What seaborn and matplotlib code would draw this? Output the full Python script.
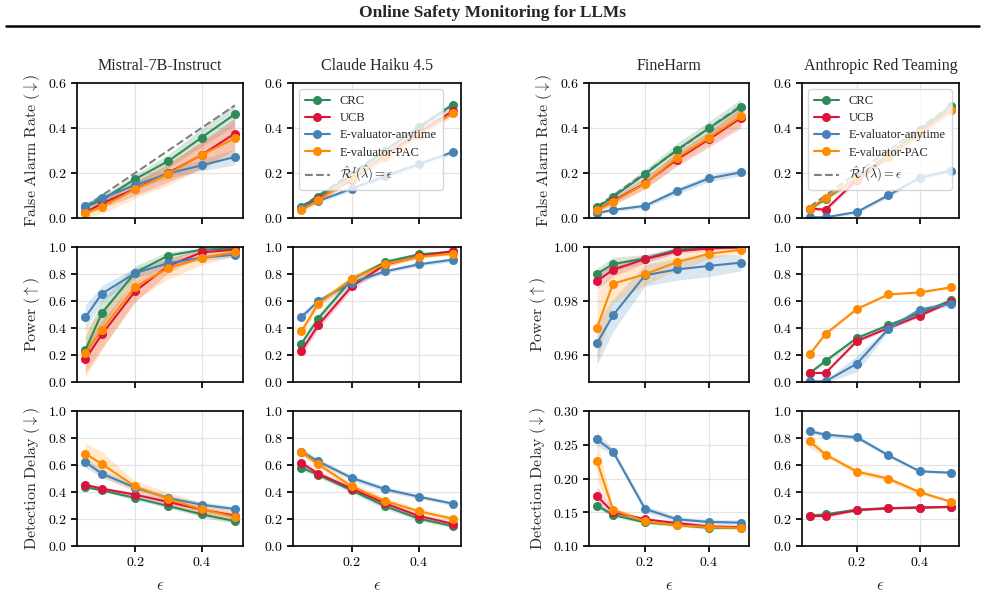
import numpy as np
import matplotlib
matplotlib.use("Agg")
import matplotlib.pyplot as plt
from matplotlib.lines import Line2D
from matplotlib.ticker import FuncFormatter
import seaborn as sns

# x values (epsilon)
eps = [0.05, 0.1, 0.2, 0.3, 0.4, 0.5]

datasets = ["Mistral-7B-Instruct", "Claude Haiku 4.5", "FineHarm", "Anthropic Red Teaming"]
methods = ["CRC", "UCB", "E-valuator-anytime", "E-valuator-PAC"]
colors = {"CRC": "#2e8b57", "UCB": "#dc143c",
          "E-valuator-anytime": "#4682b4", "E-valuator-PAC": "#ff8c00"}

# ---- False alarm rate: (mean, band half-width) per method
far_mistral = {
    "CRC": ([0.049, 0.08, 0.173, 0.253, 0.357, 0.461], [0.01, 0.015, 0.02, 0.03, 0.04, 0.05]),
    "UCB": ([0.025, 0.064, 0.13, 0.2, 0.28, 0.375], [0.01, 0.02, 0.03, 0.04, 0.06, 0.07]),
    "E-valuator-anytime": ([0.054, 0.089, 0.146, 0.198, 0.234, 0.271], [0.015, 0.015, 0.02, 0.02, 0.025, 0.035]),
    "E-valuator-PAC": ([0.022, 0.049, 0.128, 0.196, 0.28, 0.354], [0.02, 0.03, 0.04, 0.05, 0.06, 0.07]),
}
far_claude = {
    "CRC": ([0.05, 0.095, 0.19, 0.3, 0.405, 0.503], [0.008, 0.01, 0.012, 0.015, 0.015, 0.015]),
    "UCB": ([0.04, 0.085, 0.17, 0.28, 0.38, 0.475], [0.008, 0.01, 0.012, 0.015, 0.015, 0.015]),
    "E-valuator-anytime": ([0.045, 0.075, 0.131, 0.186, 0.24, 0.293], [0.006, 0.008, 0.01, 0.01, 0.01, 0.01]),
    "E-valuator-PAC": ([0.034, 0.079, 0.176, 0.272, 0.37, 0.466], [0.008, 0.01, 0.012, 0.015, 0.015, 0.015]),
}
far_fineharm = {
    "CRC": ([0.047, 0.093, 0.195, 0.303, 0.399, 0.494], [0.01, 0.015, 0.02, 0.03, 0.03, 0.035]),
    "UCB": ([0.035, 0.075, 0.155, 0.26, 0.35, 0.445], [0.01, 0.015, 0.025, 0.03, 0.035, 0.045]),
    "E-valuator-anytime": ([0.022, 0.036, 0.054, 0.12, 0.176, 0.203], [0.005, 0.008, 0.01, 0.015, 0.015, 0.015]),
    "E-valuator-PAC": ([0.034, 0.071, 0.153, 0.268, 0.357, 0.452], [0.01, 0.015, 0.025, 0.03, 0.03, 0.04]),
}
far_anthropic = {
    "CRC": ([0.04, 0.085, 0.18, 0.28, 0.39, 0.496], [0.008, 0.01, 0.012, 0.012, 0.012, 0.012]),
    "UCB": ([0.042, 0.037, 0.17, 0.27, 0.38, 0.48], [0.008, 0.01, 0.012, 0.012, 0.012, 0.012]),
    "E-valuator-anytime": ([0.004, 0.003, 0.027, 0.101, 0.179, 0.211], [0.004, 0.004, 0.008, 0.01, 0.01, 0.01]),
    "E-valuator-PAC": ([0.042, 0.091, 0.175, 0.272, 0.38, 0.478], [0.008, 0.01, 0.012, 0.012, 0.012, 0.012]),
}

# ---- Power
pow_mistral = {
    "CRC": ([0.235, 0.511, 0.81, 0.936, 0.98, 0.99], [0.1, 0.1, 0.05, 0.03, 0.01, 0.01]),
    "UCB": ([0.168, 0.353, 0.672, 0.86, 0.96, 0.98], [0.1, 0.1, 0.08, 0.05, 0.03, 0.02]),
    "E-valuator-anytime": ([0.479, 0.654, 0.807, 0.88, 0.92, 0.943], [0.09, 0.06, 0.04, 0.03, 0.02, 0.02]),
    "E-valuator-PAC": ([0.215, 0.388, 0.704, 0.844, 0.918, 0.963], [0.18, 0.15, 0.1, 0.08, 0.05, 0.03]),
}
pow_claude = {
    "CRC": ([0.284, 0.47, 0.76, 0.889, 0.946, 0.965], [0.03, 0.03, 0.025, 0.02, 0.01, 0.01]),
    "UCB": ([0.23, 0.42, 0.709, 0.87, 0.93, 0.97], [0.03, 0.03, 0.025, 0.02, 0.01, 0.01]),
    "E-valuator-anytime": ([0.481, 0.598, 0.736, 0.82, 0.872, 0.906], [0.03, 0.025, 0.02, 0.015, 0.015, 0.015]),
    "E-valuator-PAC": ([0.375, 0.58, 0.765, 0.874, 0.926, 0.95], [0.03, 0.03, 0.025, 0.02, 0.01, 0.01]),
}
pow_fineharm = {
    "CRC": ([0.9901, 0.9937, 0.9957, 0.999, 1.0, 1.0], [0.002, 0.0025, 0.0015, 0.001, 0.0005, 0.0003]),
    "UCB": ([0.9873, 0.9916, 0.9955, 0.9984, 0.9995, 0.9998], [0.003, 0.0025, 0.0015, 0.001, 0.0005, 0.0003]),
    "E-valuator-anytime": ([0.9644, 0.9747, 0.9895, 0.9917, 0.993, 0.9942], [0.008, 0.006, 0.004, 0.004, 0.004, 0.003]),
    "E-valuator-PAC": ([0.9701, 0.9864, 0.9899, 0.9944, 0.9975, 0.999], [0.013, 0.007, 0.004, 0.003, 0.002, 0.001]),
}
pow_anthropic = {
    "CRC": ([0.067, 0.156, 0.326, 0.42, 0.51, 0.605], [0.01, 0.015, 0.02, 0.015, 0.015, 0.015]),
    "UCB": ([0.067, 0.067, 0.304, 0.4, 0.491, 0.595], [0.005, 0.005, 0.015, 0.01, 0.01, 0.01]),
    "E-valuator-anytime": ([0.005, 0.005, 0.136, 0.393, 0.536, 0.58], [0.005, 0.01, 0.06, 0.02, 0.02, 0.02]),
    "E-valuator-PAC": ([0.207, 0.356, 0.541, 0.649, 0.664, 0.701], [0.01, 0.01, 0.01, 0.01, 0.01, 0.01]),
}

# ---- Detection delay
del_mistral = {
    "CRC": ([0.437, 0.412, 0.356, 0.296, 0.235, 0.185], [0.01, 0.01, 0.015, 0.015, 0.02, 0.02]),
    "UCB": ([0.454, 0.425, 0.38, 0.326, 0.27, 0.225], [0.01, 0.01, 0.02, 0.02, 0.02, 0.02]),
    "E-valuator-anytime": ([0.622, 0.536, 0.432, 0.355, 0.306, 0.274], [0.04, 0.03, 0.02, 0.02, 0.02, 0.02]),
    "E-valuator-PAC": ([0.684, 0.607, 0.442, 0.348, 0.272, 0.215], [0.08, 0.09, 0.04, 0.05, 0.05, 0.04]),
}
del_claude = {
    "CRC": ([0.58, 0.528, 0.412, 0.294, 0.202, 0.148], [0.02, 0.02, 0.02, 0.02, 0.015, 0.015]),
    "UCB": ([0.615, 0.536, 0.425, 0.315, 0.222, 0.165], [0.02, 0.02, 0.02, 0.02, 0.015, 0.015]),
    "E-valuator-anytime": ([0.70, 0.627, 0.504, 0.42, 0.365, 0.314], [0.03, 0.02, 0.02, 0.02, 0.015, 0.015]),
    "E-valuator-PAC": ([0.696, 0.605, 0.442, 0.333, 0.257, 0.202], [0.03, 0.025, 0.025, 0.025, 0.02, 0.02]),
}
del_fineharm = {
    "CRC": ([0.160, 0.146, 0.135, 0.131, 0.127, 0.127], [0.004, 0.003, 0.002, 0.002, 0.002, 0.002]),
    "UCB": ([0.174, 0.150, 0.1395, 0.134, 0.129, 0.128], [0.015, 0.004, 0.003, 0.002, 0.002, 0.002]),
    "E-valuator-anytime": ([0.258, 0.24, 0.155, 0.1395, 0.1356, 0.1346], [0.01, 0.005, 0.005, 0.004, 0.004, 0.004]),
    "E-valuator-PAC": ([0.2254, 0.1538, 0.1365, 0.1306, 0.128, 0.1267], [0.03, 0.005, 0.003, 0.002, 0.002, 0.002]),
}
del_anthropic = {
    "CRC": ([0.225, 0.235, 0.27, 0.28, 0.285, 0.29], [0.008, 0.008, 0.008, 0.008, 0.008, 0.008]),
    "UCB": ([0.222, 0.222, 0.265, 0.28, 0.285, 0.29], [0.008, 0.008, 0.008, 0.008, 0.008, 0.008]),
    "E-valuator-anytime": ([0.849, 0.825, 0.805, 0.672, 0.553, 0.543], [0.02, 0.015, 0.015, 0.015, 0.01, 0.01]),
    "E-valuator-PAC": ([0.775, 0.677, 0.551, 0.499, 0.398, 0.328], [0.05, 0.015, 0.02, 0.02, 0.015, 0.01]),
}

rows = [
    ([far_mistral, far_claude, far_fineharm, far_anthropic], r"$\mathrm{False\ Alarm\ Rate}\ (\downarrow)$"),
    ([pow_mistral, pow_claude, pow_fineharm, pow_anthropic], r"$\mathrm{Power}\ (\uparrow)$"),
    ([del_mistral, del_claude, del_fineharm, del_anthropic], r"$\mathrm{Detection\ Delay}\ (\downarrow)$"),
]
ylims = [
    [(0, 0.6)] * 4,
    [(0, 1.0), (0, 1.0), (0.95, 1.0), (0, 1.0)],
    [(0, 1.0), (0, 1.0), (0.10, 0.30), (0, 1.0)],
]
yticks = [
    [[0, 0.2, 0.4, 0.6]] * 4,
    [np.arange(0, 1.01, 0.2)] * 2 + [[0.96, 0.98, 1.00]] + [np.arange(0, 1.01, 0.2)],
    [np.arange(0, 1.01, 0.2)] * 2 + [[0.10, 0.15, 0.20, 0.25, 0.30]] + [np.arange(0, 1.01, 0.2)],
]
ydec = [[1, 1, 1, 1], [1, 1, 2, 1], [1, 1, 2, 1]]

sns.set_theme(style="whitegrid")
plt.rcParams.update({
    "font.family": ["Liberation Serif", "DejaVu Serif"],
    "mathtext.fontset": "cm",
    "axes.edgecolor": "black",
    "axes.linewidth": 1.2,
    "grid.color": "#e3e3e3",
    "grid.linewidth": 0.9,
    "xtick.bottom": True,
    "ytick.left": True,
    "xtick.major.size": 4,
    "ytick.major.size": 4,
    "xtick.color": "black",
    "ytick.color": "black",
})

W, H = 985, 608
fig = plt.figure(figsize=(W / 100, H / 100), dpi=100)

col_px = [(77, 243), (293, 461), (589, 749), (802, 959)]
row_px = [(83, 218), (247, 382), (411, 546)]

fig.text(0.5, 1 - 13 / H, "Online Safety Monitoring for LLMs", ha="center", va="center",
         fontsize=12.5, fontweight="bold")
fig.add_artist(Line2D([6 / W, 979 / W], [1 - 26 / H, 1 - 26 / H], color="black", linewidth=1.8))

for r, (panels, ylabel) in enumerate(rows):
    for c, data in enumerate(panels):
        l, rgt = col_px[c]
        t, b = row_px[r]
        ax = fig.add_axes([l / W, 1 - b / H, (rgt - l) / W, (b - t) / H])
        if r == 0:
            sns.lineplot(x=eps, y=eps, ax=ax, color="gray", linestyle="--", linewidth=1.5,
                         label=r"$\hat{\mathcal{R}}^{I}(\hat{\lambda}) = \epsilon$", legend=False)
        for m in methods:
            mean, spread = data[m]
            mean = np.array(mean)
            spread = np.array(spread)
            ax.fill_between(eps, mean - spread, mean + spread, color=colors[m], alpha=0.2, linewidth=0)
            sns.lineplot(x=eps, y=mean, ax=ax, color=colors[m], marker="o", markersize=6.5,
                         markeredgewidth=0, linewidth=1.5, label=m, legend=False)
        ax.set_xlim(0.025, 0.525)
        ax.set_ylim(*ylims[r][c])
        ax.set_xticks([0.2, 0.4])
        ax.set_yticks(yticks[r][c])
        d = ydec[r][c]
        ax.yaxis.set_major_formatter(FuncFormatter(lambda v, _, d=d: f"${v:.{d}f}$"))
        ax.tick_params(labelsize=10, pad=3)
        if r == 2:
            ax.xaxis.set_major_formatter(FuncFormatter(lambda v, _: f"${v:.1f}$"))
            ax.set_xlabel(r"$\epsilon$", fontsize=12, labelpad=7)
        else:
            ax.set_xticklabels([])
        if c in (0, 2):
            ax.set_ylabel(ylabel, fontsize=11.5, labelpad=4)
        if r == 0:
            ax.set_title(datasets[c], fontsize=11.5, pad=9)
            if c in (1, 3):
                h, lab = ax.get_legend_handles_labels()
                order = [1, 2, 3, 4, 0]
                ax.legend([h[i] for i in order], [lab[i] for i in order], loc="upper left",
                          fontsize=9, frameon=True, framealpha=0.8, borderpad=0.45,
                          handlelength=2.0, labelspacing=0.42)

fig.savefig("out.png", dpi=100)
